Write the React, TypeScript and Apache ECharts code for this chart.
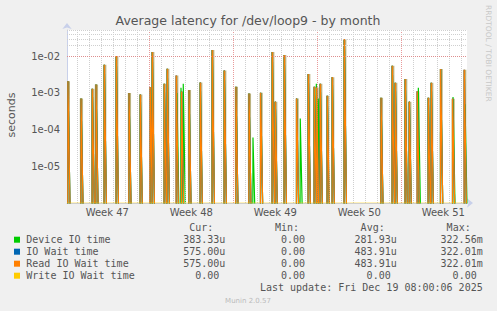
import React, { useEffect, useRef } from "react";
import * as echarts from "echarts";

// x unit: days since Sun 2025-11-09 00:00
const X_MIN = 7.142;
const X_MAX = 40.475;
const Y_MIN = 1e-6;
const Y_MAX = 0.052;

// Read IO Wait time (orange) spikes — IO Wait time equals it (write is 0)
const readTimes = [7.22, 8.31, 9.25, 9.56, 10.25, 11.25, 12.31, 13.25, 14.08, 14.25, 15.25, 15.5, 16.25, 16.69, 17.31, 18.25, 19.25, 20.25, 21.22, 22.31, 23.28, 24.25, 24.5, 25.25, 26.28, 27.25, 27.75, 27.94, 28.25, 28.83, 29.25, 30.25, 33.31, 34.25, 34.5, 35.33, 35.67, 36.33, 37.25, 37.5, 38.28, 39.28, 40.25];
const readPeaks = [2.1e-3, 7.1e-4, 1.3e-3, 1.7e-3, 5.9e-3, 1.02e-2, 9.9e-4, 9.1e-4, 1.45e-3, 1.31e-2, 1.77e-3, 4.6e-3, 3.0e-3, 1.1e-3, 1.2e-3, 1.93e-3, 1.48e-2, 4.07e-3, 1.47e-3, 9.7e-4, 1.01e-3, 1.31e-2, 5.8e-4, 1.08e-2, 7.1e-4, 3.3e-3, 1.47e-3, 1.4e-3, 1.77e-3, 8.4e-4, 2.7e-3, 2.94e-2, 7.4e-4, 5.5e-3, 1.89e-3, 2.4e-3, 5.8e-4, 1.12e-3, 7.4e-4, 1.89e-3, 4.5e-3, 7.0e-4, 4.3e-3];

// Device IO time (green) spikes
const deviceTimes = [7.22, 8.31, 9.25, 9.56, 10.25, 11.25, 12.31, 13.25, 14.1, 14.25, 15.25, 15.5, 16.3, 16.64, 16.83, 17.31, 18.25, 19.25, 20.25, 21.22, 22.31, 22.64, 23.28, 24.25, 24.5, 25.25, 26.28, 26.58, 27.25, 27.75, 27.92, 28.08, 28.25, 28.83, 29.25, 30.25, 33.31, 34.25, 34.5, 35.33, 35.67, 36.42, 37.25, 37.5, 38.28, 39.31, 40.31];
const devicePeaks = [2.1e-3, 7.1e-4, 1.3e-3, 1.7e-3, 5.9e-3, 1.02e-2, 9.9e-4, 9.1e-4, 1.3e-3, 1.31e-2, 1.77e-3, 4.6e-3, 1.0e-3, 1.38e-3, 1.77e-3, 1.2e-3, 1.93e-3, 1.48e-2, 4.07e-3, 1.47e-3, 9.7e-4, 6.1e-5, 1.01e-3, 1.31e-2, 5.8e-4, 1.08e-2, 7.1e-4, 2.0e-4, 3.3e-3, 1.47e-3, 1.77e-3, 7.1e-4, 1.77e-3, 8.4e-4, 2.7e-3, 2.94e-2, 7.4e-4, 5.5e-3, 1.89e-3, 2.4e-3, 5.8e-4, 1.39e-3, 7.4e-4, 1.89e-3, 4.5e-3, 7.7e-4, 4.9e-4];

// Write IO Wait time: zero over the whole range
const writeTimes = [7.142, 40.333];
const writeValues = [0, 0];

// axis labels
const weekLabelDays = [10.5, 17.5, 24.5, 31.5, 38.5];
const weekLabels = ["Week 47", "Week 48", "Week 49", "Week 50", "Week 51"];
const weekBoundaryDays = [14, 21, 28, 35];
const decadeValues = [1e-5, 1e-4, 1e-3, 1e-2];

// legend table
const legendNames = ["Device IO time", "IO Wait time", "Read IO Wait time", "Write IO Wait time"];
const legendColors = ["#00cc00", "#0066b3", "#ff8000", "#ffcc00"];
const curValues = ["383.33u", "575.00u", "575.00u", "0.00"];
const minValues = ["0.00", "0.00", "0.00", "0.00"];
const avgValues = ["281.93u", "483.91u", "483.91u", "0.00"];
const maxValues = ["322.56m", "322.01m", "322.01m", "0.00"];
const lastUpdate = "Last update: Fri Dec 19 08:00:06 2025";

// spike drawing shape (style)
const FLOOR = 1e-7;
const LEAD = 0.02;
const TAIL = 0.22;
const COL_LEFT = 0.1;
const COL_RIGHT = 0.17;

function spikes(times: number[], peaks: number[]) {
  const out: number[][] = [];
  times.forEach((t, i) => {
    out.push([t - LEAD, FLOOR], [t, peaks[i]], [t + TAIL, FLOOR]);
  });
  return out;
}

// column shaped fill under each spike (same peak value held over the spike's width)
function columns(times: number[], peaks: number[]) {
  const out: number[][] = [];
  times.forEach((t, i) => {
    out.push([t - COL_LEFT, Y_MIN], [t - COL_LEFT, peaks[i]], [t + COL_RIGHT, peaks[i]], [t + COL_RIGHT, Y_MIN]);
  });
  return out;
}

function buildOption() {
  const SANS = "DejaVu Sans";
  const MONO = "DejaVu Sans Mono";
  const textColor = "#555";

  const minorGray = { color: "#cfcfcf", width: 1, type: [1, 1] as any };
  const majorRed = { color: "rgba(225,120,120,0.75)", width: 1, type: [1, 1] as any };

  const vLines: any[] = [];
  for (let d = Math.ceil(X_MIN); d <= X_MAX; d++) {
    const isWeek = weekBoundaryDays.includes(d);
    vLines.push({ xAxis: d, lineStyle: isWeek ? majorRed : minorGray });
  }
  const hLines: any[] = [];
  for (let e = -6; e <= -2; e++) {
    for (let m = 1; m <= 9; m++) {
      const v = m * Math.pow(10, e);
      if (v <= Y_MIN * 1.0001 || v >= Y_MAX) continue;
      hLines.push({ yAxis: v, lineStyle: m === 1 ? majorRed : minorGray });
    }
  }

  const colEnds = [225.3, 311, 396.7, 482.7];
  const cols = [curValues, minValues, avgValues, maxValues];
  const headers = ["Cur:", "Min:", "Avg:", "Max:"];
  const rowY0 = 239.7;
  const rowStep = 12;

  const graphic: any[] = [];
  graphic.push({
    type: "text", x: 248, y: 20, silent: true,
    style: { text: "Average latency for /dev/loop9 - by month", fill: "#555", fontFamily: SANS, fontSize: 12.5, align: "center", verticalAlign: "middle" },
  });
  graphic.push({
    type: "text", x: 11, y: 115, rotation: Math.PI / 2, silent: true,
    style: { text: "seconds", fill: textColor, fontFamily: SANS, fontSize: 11, align: "center", verticalAlign: "middle" },
  });
  graphic.push({
    type: "text", x: 488, y: 5, rotation: -Math.PI / 2, silent: true,
    style: { text: "RRDTOOL / TOBI OETIKER", fill: "#c8c8c8", fontFamily: SANS, fontSize: 7.5, align: "left", verticalAlign: "middle" },
  });
  headers.forEach((h, i) => {
    graphic.push({
      type: "text", x: colEnds[i] - 12, y: 227.7, silent: true,
      style: { text: h, fill: textColor, fontFamily: MONO, fontSize: 10, align: "right", verticalAlign: "middle" },
    });
  });
  legendNames.forEach((name, r) => {
    const y = rowY0 + r * rowStep;
    graphic.push({ type: "rect", silent: true, shape: { x: 14, y: y - 3, width: 6, height: 6 }, style: { fill: legendColors[r] } });
    graphic.push({
      type: "text", x: 26.3, y, silent: true,
      style: { text: name, fill: textColor, fontFamily: MONO, fontSize: 10, align: "left", verticalAlign: "middle" },
    });
    cols.forEach((col, c) => {
      const s = col[r];
      const hasUnit = /[a-zA-Z]$/.test(s);
      graphic.push({
        type: "text", x: hasUnit ? colEnds[c] : colEnds[c] - 6, y, silent: true,
        style: { text: s, fill: textColor, fontFamily: MONO, fontSize: 10, align: "right", verticalAlign: "middle" },
      });
    });
  });
  graphic.push({
    type: "text", x: 482.7, y: 287.5, silent: true,
    style: { text: lastUpdate, fill: textColor, fontFamily: MONO, fontSize: 10, align: "right", verticalAlign: "middle" },
  });
  graphic.push({
    type: "text", x: 248, y: 300.5, silent: true,
    style: { text: "Munin 2.0.57", fill: "#bbbbbb", fontFamily: SANS, fontSize: 7, align: "center", verticalAlign: "middle" },
  });

  const lineCommon = {
    type: "line", showSymbol: false, symbol: "none", smooth: false, clip: true, silent: true,
    xAxisIndex: 0, yAxisIndex: 0,
  };

  const readData = spikes(readTimes, readPeaks);
  const fillData = columns(readTimes, readPeaks);
  const deviceData = spikes(deviceTimes, devicePeaks);
  const writeData = writeTimes.map((t, i) => [t, writeValues[i] > 0 ? writeValues[i] : Y_MIN]);

  return {
    animation: false,
    backgroundColor: "#f0f0f0",
    grid: { left: 67, top: 30, width: 400, height: 173, show: true, backgroundColor: "#ffffff", borderWidth: 0 },
    xAxis: {
      type: "value", min: X_MIN, max: X_MAX,
      axisLine: { show: true, lineStyle: { color: "#c8d0ea", width: 1 }, symbol: ["none", "arrow"], symbolSize: [7, 6], symbolOffset: [0, 6] },
      axisTick: { show: false },
      splitLine: { show: false },
      axisLabel: {
        customValues: weekLabelDays,
        formatter: (v: number) => {
          const i = weekLabelDays.findIndex((d) => Math.abs(d - v) < 1e-6);
          return i >= 0 ? weekLabels[i] : "";
        },
        color: textColor, fontFamily: SANS, fontSize: 10, margin: 4,
        showMinLabel: true, showMaxLabel: true,
      },
    },
    yAxis: {
      type: "log", logBase: 10, min: Y_MIN, max: Y_MAX,
      axisLine: { show: true, lineStyle: { color: "#c8d0ea", width: 1 }, symbol: ["none", "arrow"], symbolSize: [7, 6], symbolOffset: [0, 7] },
      axisTick: { show: false },
      splitLine: { show: false },
      axisLabel: {
        color: textColor, fontFamily: SANS, fontSize: 10, margin: 7,
        showMinLabel: false, showMaxLabel: false,
        formatter: (v: number) => {
          const e = Math.round(Math.log10(v));
          const ok = decadeValues.some((d) => Math.abs(Math.log10(d) - e) < 1e-6);
          if (!ok) return "";
          return e < 0 ? `1e-${String(-e).padStart(2, "0")}` : `1e+${String(e).padStart(2, "0")}`;
        },
      },
    },
    graphic,
    series: [
      {
        ...lineCommon, name: "grid", data: [], z: 1,
        markLine: {
          silent: true, symbol: ["none", "none"], label: { show: false }, animation: false,
          data: [...vLines, ...hLines],
        },
      },
      {
        ...lineCommon, name: "fill", data: fillData, z: 2,
        lineStyle: { width: 0, opacity: 0 },
        areaStyle: {
          origin: "start",
          color: new echarts.graphic.LinearGradient(0, 0, 0, 1, [
            { offset: 0, color: "rgba(150,128,45,0.95)" },
            { offset: 0.6, color: "rgba(150,140,62,0.9)" },
            { offset: 0.82, color: "rgba(168,178,110,0.7)" },
            { offset: 1, color: "rgba(215,228,195,0.35)" },
          ]),
        },
      },
      { ...lineCommon, name: legendNames[0], data: deviceData, z: 3, lineStyle: { color: legendColors[0], width: 1.2 } },
      { ...lineCommon, name: legendNames[1], data: readData, z: 4, lineStyle: { color: legendColors[1], width: 1.2 } },
      { ...lineCommon, name: legendNames[2], data: readData, z: 5, lineStyle: { color: legendColors[2], width: 1.2 } },
      { ...lineCommon, name: legendNames[3], data: writeData, z: 6, lineStyle: { color: legendColors[3], width: 1, opacity: 0.55 } },
    ],
  };
}

export default function App() {
  const ref = useRef<HTMLDivElement>(null);
  useEffect(() => {
    if (!ref.current) return;
    const chart = echarts.init(ref.current, null, { renderer: "svg" });
    chart.setOption(buildOption() as any);
    return () => chart.dispose();
  }, []);
  return <div ref={ref} style={{ position: "fixed", left: 0, top: 0, width: 497, height: 311 }} />;
}
